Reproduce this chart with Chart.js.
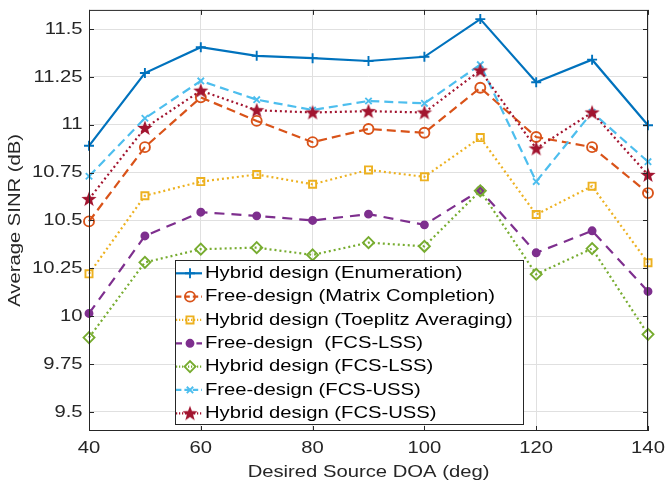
<!DOCTYPE html>
<html>
<head>
<meta charset="utf-8">
<script src="https://cdn.jsdelivr.net/npm/chart.js@4.4.1/dist/chart.umd.min.js"></script>
<style>
  html, body { margin: 0; padding: 0; background: #fff; }
  #wrap { width: 666px; height: 488px; }
</style>
</head>
<body>
<div id="wrap"><canvas id="sinrChart" width="666" height="488"></canvas></div>
<script>
// données
const doa = [40, 50, 60, 70, 80, 90, 100, 110, 120, 130, 140];
const enumSinr      = [10.89, 11.27, 11.405, 11.36, 11.348, 11.333, 11.355, 11.552, 11.222, 11.34, 10.997];
const matrixSinr    = [10.495, 10.883, 11.143, 11.02, 10.909, 10.978, 10.958, 11.193, 10.936, 10.883, 10.643];
const toeplitzSinr  = [10.221, 10.629, 10.703, 10.74, 10.689, 10.764, 10.728, 10.933, 10.531, 10.679, 10.279];
const freeLssSinr   = [10.014, 10.419, 10.543, 10.524, 10.5, 10.533, 10.477, 10.658, 10.331, 10.446, 10.129];
const hybridLssSinr = [9.888, 10.281, 10.35, 10.358, 10.32, 10.384, 10.365, 10.655, 10.219, 10.353, 9.905];
const freeUssSinr   = [10.731, 11.034, 11.229, 11.131, 11.077, 11.124, 11.112, 11.314, 10.703, 11.065, 10.807];
const hybridUssSinr = [10.612, 10.983, 11.178, 11.076, 11.064, 11.071, 11.064, 11.284, 10.876, 11.064, 10.738];

const seriesNames = [
  'Hybrid design (Enumeration)',
  'Free-design (Matrix Completion)',
  'Hybrid design (Toeplitz Averaging)',
  'Free-design  (FCS-LSS)',
  'Hybrid design (FCS-LSS)',
  'Free-design (FCS-USS)',
  'Hybrid design (FCS-USS)'
];
const xTicks = [40, 60, 80, 100, 120, 140];
const yTicks = [9.5, 9.75, 10, 10.25, 10.5, 10.75, 11, 11.25, 11.5];
const yTickLabels = ['9.5', '9.75', '10', '10.25', '10.5', '10.75', '11', '11.25', '11.5'];

const FONT = '"Liberation Sans", Arial, sans-serif';
const FONT_SIZE = 17;
const SX = 1.19; // le texte de la figure est étiré horizontalement
const AXIS_COLOR = '#262626';

// étoile pleine (marqueur MATLAB 'p')
function makeStar(color) {
  const c = document.createElement('canvas');
  c.width = 18; c.height = 18;
  const g = c.getContext('2d');
  g.fillStyle = color;
  g.beginPath();
  for (let i = 0; i < 10; i++) {
    const r = i % 2 === 0 ? 8 : 3.3;
    const a = -Math.PI / 2 + i * Math.PI / 5;
    const px = 9 + r * Math.cos(a), py = 9.5 + r * Math.sin(a);
    if (i === 0) g.moveTo(px, py); else g.lineTo(px, py);
  }
  g.closePath();
  g.fill();
  return c;
}
const star = makeStar('#A2142F');

function toXY(vals) {
  return vals.map((v, i) => ({ x: doa[i], y: v }));
}

const styles = [
  { color: '#0072BD', dash: [], pointStyle: 'cross', radius: 5, fill: 'transparent' },
  { color: '#D95319', dash: [9, 5], pointStyle: 'circle', radius: 5, fill: 'transparent' },
  { color: '#EDB120', dash: [2, 3], pointStyle: 'rect', radius: 5, fill: 'transparent' },
  { color: '#7E2F8E', dash: [10, 7], pointStyle: 'circle', radius: 3.5, fill: '#7E2F8E' },
  { color: '#77AC30', dash: [2, 3], pointStyle: 'rectRot', radius: 5.5, fill: 'transparent' },
  { color: '#4DBEEE', dash: [9, 5], pointStyle: 'crossRot', radius: 4.5, fill: 'transparent' },
  { color: '#A2142F', dash: [2, 3], pointStyle: star, radius: 8, fill: '#A2142F' }
];
const allSeries = [enumSinr, matrixSinr, toeplitzSinr, freeLssSinr, hybridLssSinr, freeUssSinr, hybridUssSinr];

const datasets = allSeries.map((vals, i) => ({
  label: seriesNames[i],
  data: toXY(vals),
  borderColor: styles[i].color,
  backgroundColor: styles[i].fill,
  borderWidth: 2.2,
  borderDash: styles[i].dash,
  pointStyle: styles[i].pointStyle,
  pointRadius: styles[i].radius,
  pointBorderColor: styles[i].color,
  pointBackgroundColor: styles[i].fill,
  pointBorderWidth: 1.9,
  tension: 0,
  clip: false,
  order: 6 - i
}));

function drawText(ctx, s, x, y, align, size, rot, color) {
  ctx.save();
  ctx.translate(x, y);
  if (rot) ctx.rotate(rot);
  ctx.scale(SX, 1);
  ctx.font = size + 'px ' + FONT;
  ctx.fillStyle = color || AXIS_COLOR;
  ctx.textAlign = align;
  ctx.textBaseline = 'middle';
  ctx.fillText(s, 0, 0);
  ctx.restore();
}

// cadre, graduations, libellés et légende façon MATLAB
const matlabAxes = {
  id: 'matlabAxes',
  afterDraw(chart) {
    const ctx = chart.ctx;
    const a = chart.chartArea;
    const xs = chart.scales.x, ys = chart.scales.y;

    ctx.save();
    ctx.strokeStyle = AXIS_COLOR;
    ctx.lineWidth = 1;
    ctx.setLineDash([]);
    ctx.strokeRect(a.left + 0.5, a.top + 0.5, a.right - a.left - 1, a.bottom - a.top - 1);
    ctx.beginPath();
    xTicks.forEach(v => {
      const px = Math.round(xs.getPixelForValue(v)) + 0.5;
      ctx.moveTo(px, a.bottom); ctx.lineTo(px, a.bottom - 5);
      ctx.moveTo(px, a.top); ctx.lineTo(px, a.top + 5);
    });
    yTicks.forEach(v => {
      const py = Math.round(ys.getPixelForValue(v)) + 0.5;
      ctx.moveTo(a.left, py); ctx.lineTo(a.left + 5, py);
      ctx.moveTo(a.right, py); ctx.lineTo(a.right - 5, py);
    });
    ctx.stroke();
    ctx.restore();

    xTicks.forEach(v => drawText(ctx, String(v), xs.getPixelForValue(v), 448.5, 'center', FONT_SIZE));
    yTicks.forEach((v, i) => drawText(ctx, yTickLabels[i], 82.5, ys.getPixelForValue(v), 'right', FONT_SIZE));
    drawText(ctx, 'Desired Source DOA (deg)', (a.left + a.right) / 2, 472, 'center', FONT_SIZE);
    drawText(ctx, 'Average SINR (dB)', 15, (a.top + a.bottom) / 2, 'center', FONT_SIZE, -Math.PI / 2);

    // légende
    const lx = 175, ly = 260, lw = 348, lh = 164;
    ctx.save();
    ctx.fillStyle = '#fff';
    ctx.fillRect(lx, ly, lw, lh);
    ctx.strokeStyle = AXIS_COLOR;
    ctx.lineWidth = 1;
    ctx.strokeRect(lx + 0.5, ly + 0.5, lw, lh);
    ctx.restore();
    seriesNames.forEach((name, i) => {
      const st = styles[i];
      const cy = 273.3 + i * 23.33;
      ctx.save();
      ctx.strokeStyle = st.color;
      ctx.lineWidth = 2.2;
      ctx.setLineDash(st.dash.length ? st.dash.map(d => d * 0.6) : []);
      ctx.beginPath();
      ctx.moveTo(176, cy); ctx.lineTo(202, cy);
      ctx.stroke();
      ctx.setLineDash([]);
      ctx.fillStyle = st.fill;
      ctx.lineWidth = 1.9;
      Chart.helpers.drawPoint(ctx, { pointStyle: st.pointStyle, radius: st.radius, rotation: 0, borderWidth: 1.9 }, 190, cy);
      ctx.restore();
      drawText(ctx, name, 205, cy, 'left', FONT_SIZE, 0, '#000');
    });
  }
};

new Chart(document.getElementById('sinrChart'), {
  type: 'line',
  data: { datasets },
  options: {
    responsive: false,
    animation: false,
    layout: { padding: { top: 5, right: 18, left: 0, bottom: 0 } },
    plugins: { legend: { display: false }, tooltip: { enabled: false } },
    scales: {
      x: {
        type: 'linear',
        min: 40, max: 140,
        afterBuildTicks: s => { s.ticks = xTicks.map(v => ({ value: v })); },
        afterFit: s => { s.height = 57; },
        ticks: { display: false },
        grid: { color: '#e0e0e0', lineWidth: 1, drawTicks: false },
        border: { display: false }
      },
      y: {
        type: 'linear',
        min: 9.4, max: 11.6,
        afterBuildTicks: s => { s.ticks = yTicks.map(v => ({ value: v })); },
        afterFit: s => { s.width = 89; },
        ticks: { display: false },
        grid: { color: '#e0e0e0', lineWidth: 1, drawTicks: false },
        border: { display: false }
      }
    }
  },
  plugins: [matlabAxes]
});
</script>
</body>
</html>
